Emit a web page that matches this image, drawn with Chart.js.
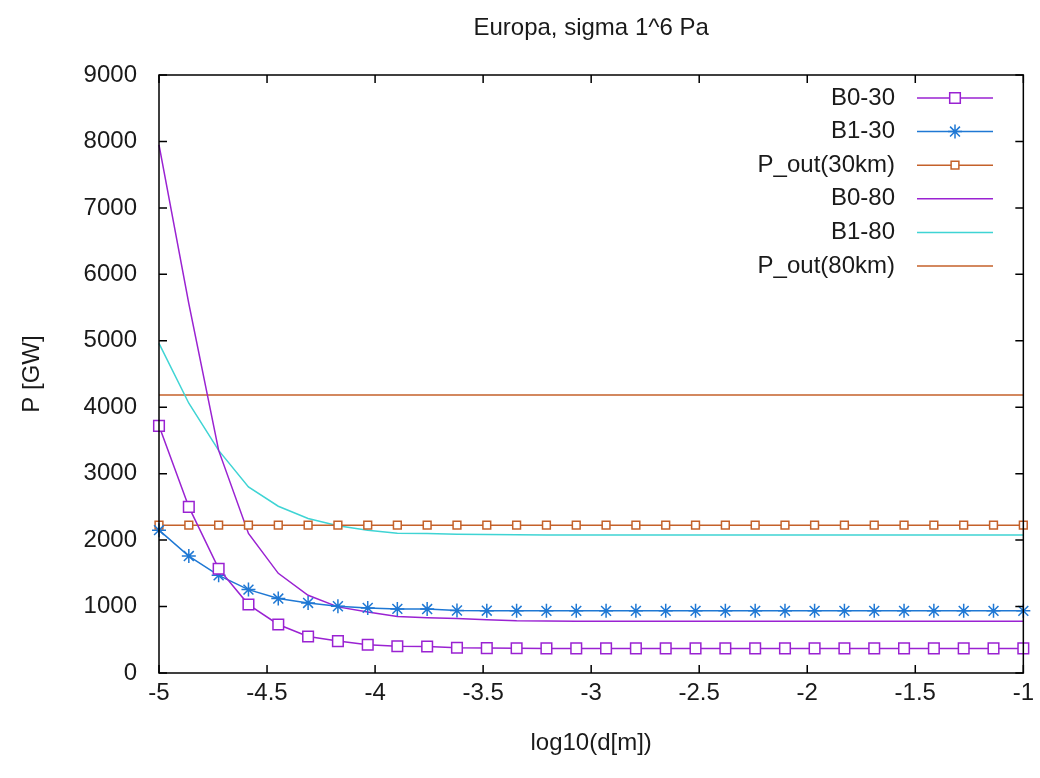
<!DOCTYPE html>
<html>
<head>
<meta charset="utf-8">
<title>Europa, sigma 1^6 Pa</title>
<script src="https://cdn.jsdelivr.net/npm/chart.js@4.4.1/dist/chart.umd.min.js"></script>
<style>
  body { margin: 0; background: #fff; }
  #chart { display: block; }
</style>
</head>
<body>
<canvas id="chart" width="1040" height="778"></canvas>
<script>
// valores (log10(d[m]) -> P [GW])
const logD = [-5, -4.862, -4.724, -4.586, -4.448, -4.310, -4.172, -4.034, -3.897, -3.759,
  -3.621, -3.483, -3.345, -3.207, -3.069, -2.931, -2.793, -2.655, -2.517, -2.379,
  -2.241, -2.103, -1.966, -1.828, -1.690, -1.552, -1.414, -1.276, -1.138, -1];

const b0_30 = [3720, 2500, 1570, 1030, 730, 550, 480, 425, 402, 398, 380, 375, 372, 370, 370,
  370, 370, 370, 370, 370, 370, 370, 370, 370, 370, 370, 370, 370, 370, 370];
const b1_30 = [2150, 1760, 1470, 1255, 1120, 1055, 1005, 980, 965, 962, 940, 938, 936, 935, 935,
  935, 935, 935, 935, 935, 935, 935, 935, 935, 935, 935, 935, 935, 935, 935];
const pOut30 = [2225, 2225, 2225, 2225, 2225, 2225, 2225, 2225, 2225, 2225, 2225, 2225, 2225, 2225, 2225,
  2225, 2225, 2225, 2225, 2225, 2225, 2225, 2225, 2225, 2225, 2225, 2225, 2225, 2225, 2225];
const b0_80 = [7950, 5560, 3350, 2100, 1500, 1170, 995, 917, 850, 832, 820, 800, 785, 782, 780,
  780, 780, 780, 780, 780, 780, 780, 780, 780, 780, 780, 780, 780, 780, 780];
const b1_80 = [4960, 4060, 3350, 2800, 2510, 2325, 2215, 2150, 2105, 2098, 2090, 2085, 2080, 2078, 2078,
  2078, 2078, 2078, 2078, 2078, 2078, 2078, 2078, 2078, 2078, 2078, 2078, 2078, 2078, 2078];
const pOut80 = [4185, 4185, 4185, 4185, 4185, 4185, 4185, 4185, 4185, 4185, 4185, 4185, 4185, 4185, 4185,
  4185, 4185, 4185, 4185, 4185, 4185, 4185, 4185, 4185, 4185, 4185, 4185, 4185, 4185, 4185];

const FUENTE = '"Liberation Sans", Arial, sans-serif';
const TEXTO = '#1a1a1a';

function puntos(valores) {
  return valores.map((v, i) => ({ x: logD[i], y: v }));
}

function serie(label, valores, color, estilo, radio) {
  return {
    label: label,
    data: puntos(valores),
    borderColor: color,
    backgroundColor: '#ffffff',
    borderWidth: 1.5,
    pointStyle: estilo || false,
    pointRadius: estilo ? radio : 0,
    pointBorderColor: color,
    pointBackgroundColor: '#ffffff',
    pointBorderWidth: 1.5,
    tension: 0,
    clip: false,
  };
}

// titulo arriba, centrado sobre el area de la grafica
const tituloPlugin = {
  id: 'tituloGnuplot',
  afterDraw(chart) {
    const ctx = chart.ctx;
    const a = chart.chartArea;
    ctx.save();
    ctx.font = '24px ' + FUENTE;
    ctx.fillStyle = TEXTO;
    ctx.textAlign = 'center';
    ctx.textBaseline = 'middle';
    ctx.fillText('Europa, sigma 1^6 Pa', (a.left + a.right) / 2, 28);
    ctx.restore();
  }
};

// marco con marcas hacia dentro en los cuatro lados (estilo gnuplot)
const marcoPlugin = {
  id: 'marcoGnuplot',
  afterDatasetsDraw(chart) {
    const ctx = chart.ctx;
    const a = chart.chartArea;
    const largo = 8;
    ctx.save();
    ctx.strokeStyle = '#000';
    ctx.lineWidth = 1.5;
    ctx.strokeRect(a.left, a.top, a.right - a.left, a.bottom - a.top);
    ctx.beginPath();
    chart.scales.x.ticks.forEach(t => {
      const px = chart.scales.x.getPixelForValue(t.value);
      ctx.moveTo(px, a.bottom); ctx.lineTo(px, a.bottom - largo);
      ctx.moveTo(px, a.top); ctx.lineTo(px, a.top + largo);
    });
    chart.scales.y.ticks.forEach(t => {
      const py = chart.scales.y.getPixelForValue(t.value);
      ctx.moveTo(a.left, py); ctx.lineTo(a.left + largo, py);
      ctx.moveTo(a.right, py); ctx.lineTo(a.right - largo, py);
    });
    ctx.stroke();
    ctx.restore();
  }
};

// leyenda arriba a la derecha: texto alineado a la derecha y muestra de linea
const leyendaPlugin = {
  id: 'leyendaGnuplot',
  afterDraw(chart) {
    const ctx = chart.ctx;
    const xTexto = 895, x0 = 917, x1 = 993, y0 = 98, paso = 33.6;
    ctx.save();
    ctx.font = '24px ' + FUENTE;
    ctx.textAlign = 'right';
    ctx.textBaseline = 'middle';
    chart.data.datasets.forEach((ds, i) => {
      const y = y0 + i * paso;
      ctx.fillStyle = TEXTO;
      ctx.fillText(ds.label, xTexto, y);
      ctx.strokeStyle = ds.borderColor;
      ctx.lineWidth = ds.borderWidth;
      ctx.beginPath();
      ctx.moveTo(x0, y);
      ctx.lineTo(x1, y);
      ctx.stroke();
      if (ds.pointStyle && Chart.helpers && Chart.helpers.drawPoint) {
        ctx.fillStyle = ds.pointBackgroundColor;
        ctx.strokeStyle = ds.pointBorderColor;
        ctx.lineWidth = ds.pointBorderWidth;
        Chart.helpers.drawPoint(ctx, {
          pointStyle: ds.pointStyle,
          radius: ds.pointRadius,
          rotation: 0,
          borderWidth: ds.pointBorderWidth
        }, (x0 + x1) / 2, y);
      }
    });
    ctx.restore();
  }
};

new Chart(document.getElementById('chart'), {
  type: 'line',
  data: {
    datasets: [
      serie('B0-30', b0_30, '#9a22d2', 'rect', 7.5),
      serie('B1-30', b1_30, '#1f78d4', 'star', 7),
      serie('P_out(30km)', pOut30, '#c4612a', 'rect', 5.5),
      serie('B0-80', b0_80, '#9a22d2'),
      serie('B1-80', b1_80, '#3fd4d4'),
      serie('P_out(80km)', pOut80, '#c4612a'),
    ]
  },
  options: {
    responsive: false,
    animation: false,
    layout: { padding: { top: 75, right: 15, left: 0, bottom: 0 } },
    plugins: {
      legend: { display: false },
      title: { display: false },
      tooltip: { enabled: false },
    },
    scales: {
      x: {
        type: 'linear',
        min: -5,
        max: -1,
        afterFit(scale) { scale.height = 105; },
        grid: { display: false, drawTicks: false },
        border: { display: false },
        ticks: {
          stepSize: 0.5,
          padding: 6,
          color: TEXTO,
          font: { family: FUENTE, size: 24 },
          maxRotation: 0,
          callback: v => String(v),
        },
        title: {
          display: true,
          text: 'log10(d[m])',
          color: TEXTO,
          font: { family: FUENTE, size: 24 },
          padding: { top: 0, bottom: 20 },
        },
      },
      y: {
        min: 0,
        max: 9000,
        afterFit(scale) { scale.width = 159; },
        grid: { display: false, drawTicks: false },
        border: { display: false },
        ticks: {
          stepSize: 1000,
          padding: 22,
          color: TEXTO,
          font: { family: FUENTE, size: 24 },
          callback: v => String(v),
        },
        title: {
          display: true,
          text: 'P [GW]',
          color: TEXTO,
          font: { family: FUENTE, size: 24 },
          padding: { top: 18, bottom: 0 },
        },
      },
    },
  },
  plugins: [tituloPlugin, marcoPlugin, leyendaPlugin],
});
</script>
</body>
</html>
